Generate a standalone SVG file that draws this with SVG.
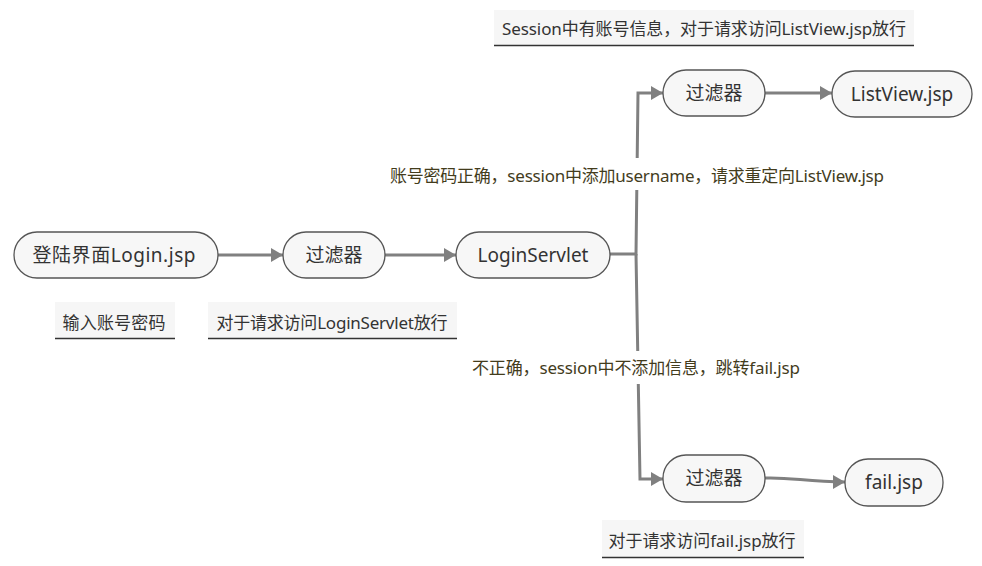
<svg xmlns="http://www.w3.org/2000/svg" width="982" height="566" viewBox="0 0 982 566">
<defs>
<style>
.node rect{fill:#f7f7f7;stroke:#555;stroke-width:1.3}
.node text{font-family:"Noto Sans","Noto Sans CJK SC",sans-serif;font-size:19px;fill:#333;text-anchor:middle;dominant-baseline:central}
.lbl rect.bg{fill:#f6f6f6}
.lbl line{stroke:#333;stroke-width:1.5}
.lbl text{font-family:"Noto Sans","Noto Sans CJK SC",sans-serif;font-size:17px;fill:#333;text-anchor:middle;dominant-baseline:central}
.elbl text{font-family:"Noto Sans","Noto Sans CJK SC",sans-serif;font-size:17px;fill:#433c1c;text-anchor:middle;dominant-baseline:central}
.conn path{fill:none;stroke:#808080;stroke-width:3}
</style>
<marker id="ah" viewBox="0 0 12 14" refX="12" refY="7" markerWidth="12" markerHeight="14" markerUnits="userSpaceOnUse" orient="auto">
<path d="M0,0 L12,7 L0,14 Z" fill="#808080"/>
</marker>
</defs>
<rect width="982" height="566" fill="#ffffff"/>
<g id="connectors" class="conn">
<path d="M218,255 L283,255" marker-end="url(#ah)"/>
<path d="M385,255 L456,255" marker-end="url(#ah)"/>
<path d="M610,254 L636,254 L638,93 L663,93" marker-end="url(#ah)"/>
<path d="M636,254 L640,479 L663,479" marker-end="url(#ah)"/>
<path d="M765,93 L832,93" marker-end="url(#ah)"/>
<path d="M765,478 C792,477 806,482 845,482" marker-end="url(#ah)"/>
</g>
<g id="edge-label-ok" class="elbl">
<rect x="388" y="158" width="498" height="32" fill="#ffffff"/>
<text x="637" y="175" textLength="494" lengthAdjust="spacing">账号密码正确，session中添加username，请求重定向ListView.jsp</text>
</g>
<g id="edge-label-fail" class="elbl">
<rect x="470" y="351" width="332" height="33" fill="#ffffff"/>
<text x="636" y="367" textLength="328" lengthAdjust="spacing">不正确，session中不添加信息，跳转fail.jsp</text>
</g>
<g id="n-login" class="node">
<rect x="14" y="232" width="204" height="46" rx="23"/>
<text x="114" y="255" textLength="163" lengthAdjust="spacing">登陆界面Login.jsp</text>
</g>
<g id="n-filter1" class="node">
<rect x="283" y="232" width="102" height="46" rx="23"/>
<text x="334" y="255">过滤器</text>
</g>
<g id="n-servlet" class="node">
<rect x="456" y="232" width="154" height="46" rx="23"/>
<text x="533" y="255">LoginServlet</text>
</g>
<g id="n-filter2" class="node">
<rect x="663" y="70" width="102" height="46" rx="23"/>
<text x="714" y="93">过滤器</text>
</g>
<g id="n-listview" class="node">
<rect x="832" y="71" width="140" height="46" rx="23"/>
<text x="902" y="94">ListView.jsp</text>
</g>
<g id="n-filter3" class="node">
<rect x="663" y="455" width="102" height="47" rx="23"/>
<text x="714" y="478">过滤器</text>
</g>
<g id="n-fail" class="node">
<rect x="845" y="459" width="98" height="47" rx="23"/>
<text x="894" y="482">fail.jsp</text>
</g>
<g id="lbl-input" class="lbl">
<rect class="bg" x="55" y="302" width="120" height="36"/>
<line x1="55" y1="338.5" x2="175" y2="338.5"/>
<text x="114" y="322" textLength="103" lengthAdjust="spacing">输入账号密码</text>
</g>
<g id="lbl-filter1" class="lbl">
<rect class="bg" x="208" y="302" width="249" height="36"/>
<line x1="208" y1="338.5" x2="457" y2="338.5"/>
<text x="332" y="322" textLength="231" lengthAdjust="spacing">对于请求访问LoginServlet放行</text>
</g>
<g id="lbl-filter2" class="lbl">
<rect class="bg" x="494" y="10" width="420" height="35"/>
<line x1="494" y1="45.5" x2="914" y2="45.5"/>
<text x="704" y="28" textLength="404" lengthAdjust="spacing">Session中有账号信息，对于请求访问ListView.jsp放行</text>
</g>
<g id="lbl-filter3" class="lbl">
<rect class="bg" x="602" y="520" width="202" height="37"/>
<line x1="602" y1="557.5" x2="804" y2="557.5"/>
<text x="702" y="540" textLength="187" lengthAdjust="spacing">对于请求访问fail.jsp放行</text>
</g>
</svg>
